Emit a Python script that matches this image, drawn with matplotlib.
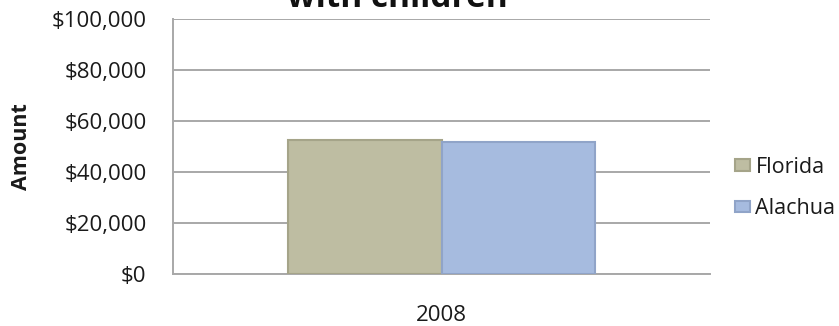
import matplotlib
matplotlib.use("Agg")
import matplotlib.pyplot as plt
from matplotlib.ticker import FuncFormatter
import numpy as np

years = ["2008"]
series_names = ["Florida", "Alachua"]
florida = [52500]
alachua = [51900]
yticks = [0, 20000, 40000, 60000, 80000, 100000]
title_text = "with children"
ylabel_text = "Amount"

plt.rcParams['font.family'] = ['Open Sans', 'DejaVu Sans']

W, H = 839, 326
fig = plt.figure(figsize=(W / 100, H / 100), dpi=100)
ax = fig.add_axes([173 / W, 1 - 274 / H, (710 - 173) / W, (274 - 19) / H])

x = np.arange(len(years))
w = 0.285
colors = ["#bebda2", "#a6bbdf"]
edges = ["#a5a489", "#90a4c8"]
for i, (name, vals) in enumerate(zip(series_names, [florida, alachua])):
    ax.bar(x + (i - 0.5) * w, vals, width=w, color=colors[i], edgecolor=edges[i],
           linewidth=1.5, label=name, zorder=3)

ax.set_xlim(-0.5, 0.5)
ax.set_ylim(0, 100000)
ax.set_yticks(yticks)
ax.yaxis.set_major_formatter(FuncFormatter(lambda v, p: "${:,.0f}".format(v)))
ax.set_xticks(x)
ax.set_xticklabels(years)
ax.tick_params(axis='both', length=0, labelsize=16, colors="#1a1a1a")
ax.tick_params(axis='y', pad=19)
ax.tick_params(axis='x', pad=22)
ax.grid(axis='y', color="#a8a8a8", linewidth=1.4, zorder=0)
for s in ["top", "right"]:
    ax.spines[s].set_visible(False)
for s in ["left", "bottom"]:
    ax.spines[s].set_color("#a8a8a8")
    ax.spines[s].set_linewidth(1.4)

ax.set_ylabel(ylabel_text, fontsize=15.5, fontweight='bold', color="#1a1a1a")
ax.yaxis.set_label_coords((32 - 173) / 537, 0.5)

fig.text(397 / W, 1 - 7 / H, title_text, ha='center', va='baseline',
         fontsize=24, fontweight='bold', color="#111111")

leg = ax.legend(loc='center left', bbox_to_anchor=((735 - 173) / 537, (274 - 188) / 255),
                frameon=False, fontsize=15.5, handlelength=0.7, handleheight=0.45,
                labelspacing=0.95, handletextpad=0.25, borderaxespad=0, borderpad=0)
for t in leg.get_texts():
    t.set_color("#1a1a1a")

fig.savefig("out.png", dpi=100)
